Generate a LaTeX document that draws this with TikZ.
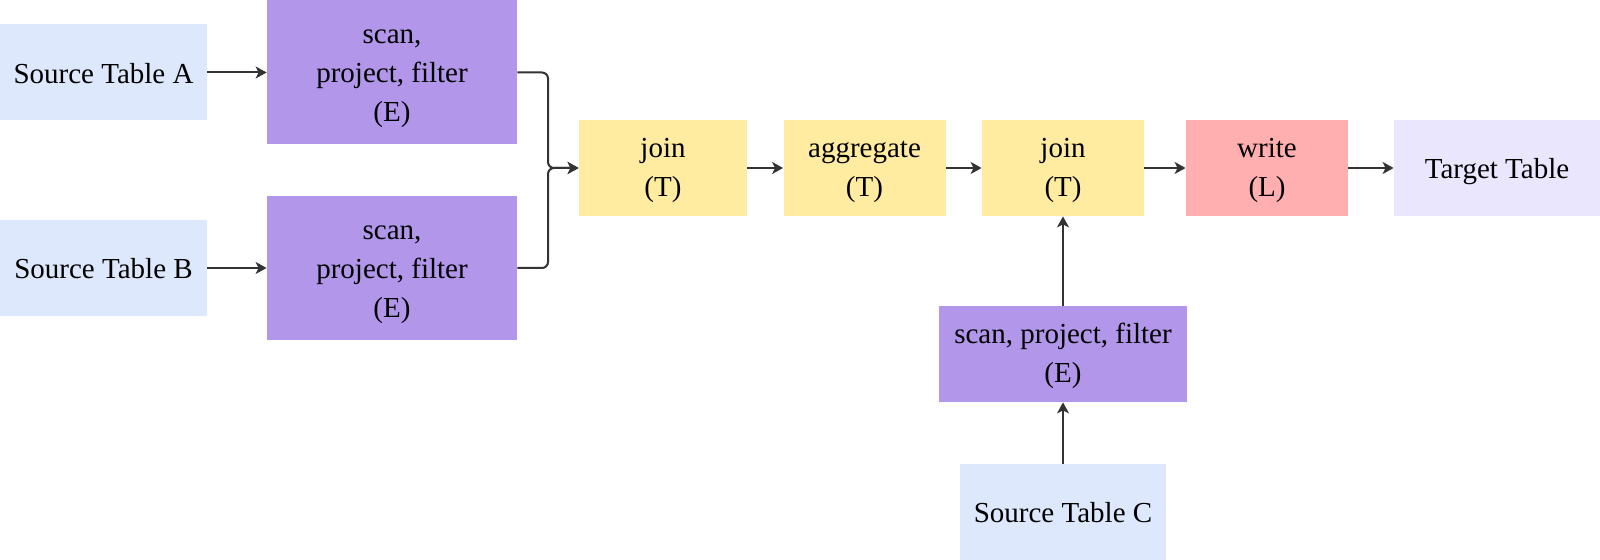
\documentclass[tikz,border=0pt]{standalone}
\usepackage{fontspec}
\setmainfont{Liberation Serif}
\usepackage{xcolor}
\usetikzlibrary{arrows.meta}
\definecolor{srcblue}{HTML}{DDE8FC}
\definecolor{extpurple}{HTML}{B196EA}
\definecolor{trnyellow}{HTML}{FFECA1}
\definecolor{loadred}{HTML}{FFAFAF}
\definecolor{tgtlavender}{HTML}{E9E6FD}
\definecolor{wire}{HTML}{333333}
\tikzset{
  stage/.style={inner sep=0pt, align=center, text=black, minimum height=48pt,
    font=\fontsize{14.5}{19.5}\selectfont, text height=11pt, text depth=0pt},
  twolines/.style={text height=28.5pt, text depth=0pt},
  threelines/.style={text height=49.5pt, text depth=0pt},
  srcbox/.style={stage, fill=srcblue, minimum width=103.5pt},
  extbox/.style={stage, fill=extpurple, minimum width=125pt},
  trnbox/.style={stage, twolines, fill=trnyellow, minimum width=81pt},
  loadbox/.style={stage, twolines, fill=loadred, minimum width=81pt},
  tgtbox/.style={stage, fill=tgtlavender, minimum width=103pt},
  flow/.style={draw=wire, line width=1pt, -{Stealth[length=5.5pt,width=6pt,inset=1.5pt]}},
}

\begin{document}
\begin{tikzpicture}[x=0.5pt,y=-0.5pt]
    \useasboundingbox (0,0) rectangle (1600,560);
    \node[srcbox] (srcA) at (103.5,72.5) {Source Table A};
    \node[srcbox] (srcB) at (103.5,268) {Source Table B};
    \node[extbox, threelines, minimum height=72pt] (extA) at (392,72.5) {scan,\\project, filter\\(E)};
    \node[extbox, threelines, minimum height=72pt] (extB) at (392,268) {scan,\\project, filter\\(E)};
    \node[trnbox, minimum width=84pt] (joinAB) at (663,168) {join\\(T)};
    \node[trnbox] (agg) at (864.5,168) {aggregate\\(T)};
    \node[trnbox] (joinC) at (1063,168) {join\\(T)};
    \node[loadbox] (write) at (1267,168) {write\\(L)};
    \node[tgtbox] (target) at (1497,168) {Target Table};
    \node[extbox, twolines, minimum width=124pt] (extC) at (1063,354) {scan, project, filter\\(E)};
    \node[srcbox, minimum width=103pt] (srcC) at (1063,512) {Source Table C};
    \coordinate (merge) at (548,168);

    \draw[flow] (srcA) -- (extA);
    \draw[flow] (srcB) -- (extB);
    \draw[flow, rounded corners=3pt] (extA.east) -| (merge) -- (joinAB.west);
    \draw[flow, rounded corners=3pt] (extB.east) -| (merge) -- (joinAB.west);
    \draw[flow] (joinAB) -- (agg);
    \draw[flow] (agg) -- (joinC);
    \draw[flow] (joinC) -- (write);
    \draw[flow] (write) -- (target);
    \draw[flow] (srcC) -- (extC);
    \draw[flow] (extC) -- (joinC);
\end{tikzpicture}
\end{document}
